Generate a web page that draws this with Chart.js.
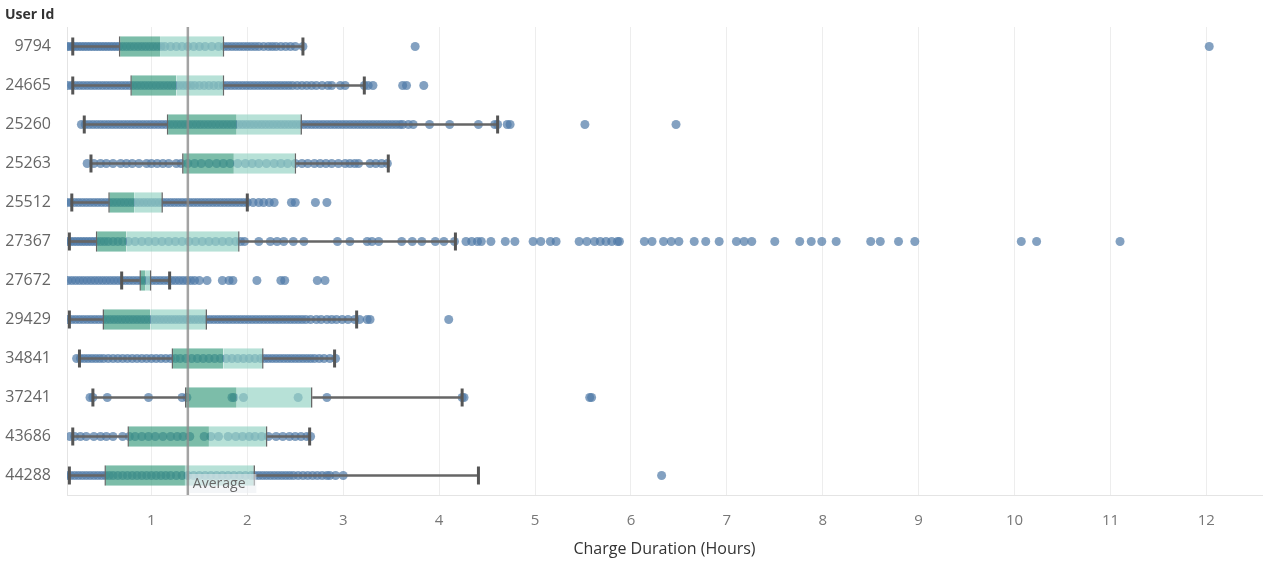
<!DOCTYPE html>
<html>
<head>
<meta charset="utf-8">
<script src="https://cdn.jsdelivr.net/npm/chart.js@4.4.1/dist/chart.umd.min.js"></script>
<style>
    body { margin: 0; background: #fff; }
</style>
</head>
<body>
<canvas id="chart" width="1265" height="561"></canvas>
<script>
const users = ['9794', '24665', '25260', '25263', '25512', '27367', '27672', '29429', '34841', '37241', '43686', '44288']

// box plot summary per user (hours)
const whiskerLow = [0.18, 0.18, 0.30, 0.37, 0.17, 0.145, 0.69, 0.145, 0.25, 0.39, 0.18, 0.145]
const q1 = [0.66, 0.78, 1.16, 1.32, 0.55, 0.42, 0.875, 0.49, 1.21, 1.35, 0.75, 0.51]
const median = [1.09, 1.26, 1.89, 1.86, 0.82, 0.74, 0.94, 0.99, 1.75, 1.89, 1.60, 1.35]
const q3 = [1.76, 1.76, 2.57, 2.51, 1.12, 1.92, 1.0, 1.58, 2.17, 2.68, 2.21, 2.08]
const whiskerHigh = [2.58, 3.22, 4.61, 3.47, 2.0, 4.17, 1.19, 3.14, 2.91, 4.24, 2.65, 4.41]
const averageDuration = 1.38

const xTicks = [1, 2, 3, 4, 5, 6, 7, 8, 9, 10, 11, 12]

// charge durations per user
const dur9794 = [0.12, 0.15, 0.18, 0.21, 0.24, 0.27, 0.3, 0.33, 0.36, 0.39, 0.42, 0.45, 0.48, 0.51, 0.54, 0.57, 0.6, 0.63, 0.66, 0.7, 0.74, 0.78, 0.82, 0.86, 0.9, 0.94, 0.98, 1.02, 1.06, 1.1, 1.14, 1.2, 1.26, 1.32, 1.38, 1.44, 1.5, 1.56, 1.63, 1.7, 1.76, 1.8, 1.84, 1.88, 1.92, 1.96, 2.0, 2.04, 2.08, 2.12, 2.17, 2.22, 2.26, 2.3, 2.35, 2.4, 2.45, 2.5, 2.58, 3.75, 12.03]
const dur24665 = [0.13, 0.17, 0.21, 0.25, 0.29, 0.33, 0.37, 0.41, 0.45, 0.49, 0.53, 0.57, 0.61, 0.65, 0.69, 0.73, 0.77, 0.81, 0.85, 0.89, 0.93, 0.97, 1.01, 1.05, 1.09, 1.13, 1.17, 1.21, 1.25, 1.29, 1.33, 1.37, 1.41, 1.45, 1.5, 1.55, 1.6, 1.65, 1.7, 1.75, 1.79, 1.83, 1.87, 1.91, 1.95, 1.99, 2.03, 2.07, 2.11, 2.15, 2.19, 2.23, 2.27, 2.31, 2.35, 2.39, 2.43, 2.47, 2.52, 2.57, 2.62, 2.67, 2.72, 2.78, 2.84, 2.88, 2.97, 3.02, 3.22, 3.26, 3.31, 3.62, 3.66, 3.84]
const dur25260 = [0.27, 0.31, 0.35, 0.39, 0.43, 0.47, 0.51, 0.55, 0.59, 0.63, 0.67, 0.71, 0.75, 0.79, 0.83, 0.87, 0.91, 0.95, 0.99, 1.03, 1.07, 1.11, 1.15, 1.19, 1.23, 1.27, 1.31, 1.35, 1.39, 1.43, 1.47, 1.51, 1.55, 1.59, 1.63, 1.67, 1.71, 1.75, 1.79, 1.83, 1.87, 1.91, 1.95, 1.99, 2.03, 2.07, 2.11, 2.15, 2.19, 2.23, 2.27, 2.31, 2.35, 2.39, 2.43, 2.47, 2.51, 2.55, 2.59, 2.63, 2.67, 2.71, 2.75, 2.79, 2.83, 2.87, 2.91, 2.95, 2.99, 3.03, 3.07, 3.11, 3.15, 3.19, 3.23, 3.27, 3.31, 3.35, 3.39, 3.43, 3.47, 3.51, 3.55, 3.59, 3.62, 3.68, 3.73, 3.9, 4.11, 4.41, 4.58, 4.61, 4.71, 4.74, 5.52, 6.47]
const dur25263 = [0.33, 0.4, 0.47, 0.53, 0.6, 0.68, 0.74, 0.8, 0.87, 0.95, 1.0, 1.06, 1.12, 1.18, 1.26, 1.31, 1.38, 1.45, 1.52, 1.6, 1.68, 1.75, 1.82, 1.9, 1.98, 2.05, 2.12, 2.2, 2.28, 2.35, 2.42, 2.5, 2.57, 2.63, 2.7, 2.76, 2.82, 2.88, 2.95, 3.02, 3.07, 3.12, 3.16, 3.28, 3.34, 3.4, 3.46]
const dur25512 = [0.12, 0.16, 0.2, 0.24, 0.28, 0.32, 0.36, 0.4, 0.44, 0.48, 0.52, 0.56, 0.6, 0.64, 0.68, 0.72, 0.76, 0.8, 0.84, 0.88, 0.92, 0.96, 1.0, 1.04, 1.08, 1.12, 1.16, 1.2, 1.24, 1.28, 1.32, 1.36, 1.4, 1.44, 1.48, 1.52, 1.56, 1.6, 1.64, 1.68, 1.72, 1.76, 1.8, 1.84, 1.88, 1.92, 1.96, 2.0, 2.06, 2.12, 2.17, 2.23, 2.28, 2.46, 2.5, 2.71, 2.83]
const dur27367 = [0.13, 0.16, 0.19, 0.22, 0.25, 0.28, 0.31, 0.34, 0.37, 0.4, 0.43, 0.47, 0.51, 0.55, 0.6, 0.65, 0.7, 0.76, 0.83, 0.9, 0.97, 1.04, 1.11, 1.18, 1.25, 1.32, 1.39, 1.46, 1.53, 1.6, 1.67, 1.74, 1.81, 1.88, 1.93, 1.97, 2.12, 2.24, 2.31, 2.38, 2.48, 2.59, 2.94, 3.07, 3.25, 3.3, 3.37, 3.61, 3.72, 3.82, 3.96, 4.05, 4.16, 4.28, 4.34, 4.4, 4.44, 4.54, 4.69, 4.79, 4.98, 5.06, 5.16, 5.22, 5.46, 5.54, 5.62, 5.68, 5.74, 5.8, 5.86, 5.88, 6.14, 6.22, 6.34, 6.42, 6.5, 6.66, 6.78, 6.92, 7.1, 7.18, 7.26, 7.5, 7.76, 7.88, 7.99, 8.14, 8.5, 8.6, 8.79, 8.96, 10.07, 10.23, 11.1]
const dur27672 = [0.13, 0.17, 0.21, 0.25, 0.29, 0.33, 0.37, 0.41, 0.45, 0.49, 0.53, 0.57, 0.61, 0.65, 0.69, 0.73, 0.77, 0.81, 0.85, 0.89, 0.93, 0.97, 1.01, 1.05, 1.09, 1.13, 1.17, 1.21, 1.25, 1.29, 1.33, 1.37, 1.41, 1.45, 1.5, 1.58, 1.74, 1.81, 1.85, 2.1, 2.35, 2.39, 2.73, 2.81]
const dur29429 = [0.13, 0.17, 0.21, 0.25, 0.29, 0.33, 0.37, 0.41, 0.45, 0.49, 0.53, 0.57, 0.61, 0.65, 0.69, 0.73, 0.77, 0.81, 0.85, 0.89, 0.93, 0.97, 1.01, 1.05, 1.09, 1.13, 1.17, 1.21, 1.25, 1.29, 1.33, 1.37, 1.41, 1.45, 1.49, 1.53, 1.57, 1.61, 1.65, 1.69, 1.73, 1.77, 1.81, 1.85, 1.89, 1.93, 1.97, 2.01, 2.05, 2.09, 2.13, 2.17, 2.21, 2.25, 2.29, 2.33, 2.37, 2.41, 2.45, 2.49, 2.53, 2.57, 2.61, 2.66, 2.72, 2.77, 2.83, 2.88, 2.93, 2.99, 3.05, 3.12, 3.17, 3.25, 3.28, 4.1]
const dur34841 = [0.22, 0.26, 0.3, 0.34, 0.38, 0.42, 0.46, 0.5, 0.55, 0.6, 0.65, 0.7, 0.75, 0.8, 0.85, 0.9, 0.95, 1.0, 1.05, 1.1, 1.15, 1.2, 1.25, 1.3, 1.36, 1.42, 1.48, 1.54, 1.6, 1.66, 1.72, 1.78, 1.84, 1.9, 1.96, 2.02, 2.08, 2.14, 2.18, 2.22, 2.26, 2.3, 2.34, 2.38, 2.42, 2.46, 2.5, 2.54, 2.58, 2.62, 2.66, 2.7, 2.75, 2.8, 2.86, 2.92]
const dur37241 = [0.36, 0.39, 0.54, 0.97, 1.32, 1.37, 1.84, 1.86, 1.96, 2.53, 2.83, 4.24, 4.26, 5.57, 5.59]
const dur43686 = [0.15, 0.2, 0.26, 0.32, 0.4, 0.47, 0.53, 0.6, 0.7, 0.77, 0.83, 0.9, 0.97, 1.04, 1.12, 1.2, 1.27, 1.33, 1.4, 1.55, 1.62, 1.7, 1.8, 1.88, 1.95, 2.02, 2.08, 2.15, 2.22, 2.3, 2.37, 2.44, 2.5, 2.56, 2.62, 2.66]
const dur44288 = [0.12, 0.16, 0.2, 0.24, 0.28, 0.32, 0.36, 0.4, 0.44, 0.48, 0.52, 0.56, 0.6, 0.65, 0.7, 0.75, 0.8, 0.85, 0.9, 0.95, 1.0, 1.05, 1.1, 1.15, 1.2, 1.26, 1.32, 1.38, 1.44, 1.5, 1.56, 1.62, 1.68, 1.74, 1.8, 1.86, 1.92, 1.98, 2.04, 2.08, 2.12, 2.16, 2.2, 2.24, 2.28, 2.32, 2.36, 2.4, 2.44, 2.48, 2.53, 2.58, 2.63, 2.68, 2.73, 2.78, 2.83, 2.86, 2.92, 3.0, 6.32]

const durations = [dur9794, dur24665, dur25260, dur25263, dur25512, dur27367, dur27672, dur29429, dur34841, dur37241, dur43686, dur44288]

const FONT = "'Open Sans', sans-serif"

const points = users.flatMap((u, i) => durations[i].map(x => ({ x: x, y: u })))
const caps = users.flatMap((u, i) => [{ x: whiskerLow[i], y: u }, { x: whiskerHigh[i], y: u }])

// header text + average reference line
const extras = {
    id: 'extras',
    afterDatasetsDraw(chart) {
        const { ctx, chartArea, scales } = chart
        const xa = scales.x.getPixelForValue(averageDuration)
        ctx.save()
        ctx.strokeStyle = 'rgba(140,140,140,0.8)'
        ctx.lineWidth = 2.5
        ctx.beginPath()
        ctx.moveTo(xa, chartArea.top)
        ctx.lineTo(xa, chartArea.bottom)
        ctx.stroke()

        ctx.fillStyle = 'rgba(235,238,242,0.55)'
        ctx.fillRect(xa + 1.5, chartArea.bottom - 21, 67, 19)
        ctx.fillStyle = '#666'
        ctx.font = '14px ' + FONT
        ctx.textBaseline = 'middle'
        ctx.fillText('Average', xa + 5, chartArea.bottom - 11)

        ctx.fillStyle = '#333'
        ctx.font = 'bold 14px ' + FONT
        ctx.fillText('User Id', 5, 15)
        ctx.restore()
    }
}

new Chart(document.getElementById('chart'), {
    type: 'bar',
    data: {
        labels: users,
        datasets: [{
            type: 'scatter',
            data: points,
            pointRadius: 4.5,
            backgroundColor: 'rgba(78,121,167,0.7)',
            borderWidth: 0,
            order: 6
        }, {
            data: users.map((u, i) => [q1[i], median[i]]),
            backgroundColor: 'rgba(54,154,123,0.65)',
            borderColor: '#666',
            borderWidth: { left: 1.5, right: 0, top: 0, bottom: 0 },
            borderSkipped: false,
            grouped: false,
            barPercentage: 0.52,
            categoryPercentage: 1,
            order: 5
        }, {
            data: users.map((u, i) => [median[i], q3[i]]),
            backgroundColor: 'rgba(147,211,195,0.67)',
            borderColor: '#666',
            borderWidth: { left: 0, right: 1.5, top: 0, bottom: 0 },
            borderSkipped: false,
            grouped: false,
            barPercentage: 0.52,
            categoryPercentage: 1,
            order: 4
        }, {
            data: users.map((u, i) => [whiskerLow[i], q1[i]]),
            backgroundColor: '#666',
            grouped: false,
            barThickness: 2,
            order: 3
        }, {
            data: users.map((u, i) => [q3[i], whiskerHigh[i]]),
            backgroundColor: '#666',
            grouped: false,
            barThickness: 2,
            order: 2
        }, {
            type: 'scatter',
            data: caps,
            pointStyle: 'line',
            rotation: 90,
            pointRadius: 9,
            borderWidth: 3,
            borderColor: '#555',
            order: 1
        }]
    },
    options: {
        indexAxis: 'y',
        responsive: false,
        animation: false,
        events: [],
        layout: { autoPadding: false, padding: { top: 27, right: 3, left: 0, bottom: 0 } },
        plugins: {
            legend: { display: false },
            tooltip: { enabled: false }
        },
        scales: {
            x: {
                type: 'linear',
                min: 0.12,
                max: 12.58,
                afterBuildTicks: scale => { scale.ticks = xTicks.map(v => ({ value: v })) },
                afterFit: scale => {
                    scale.height = 66
                    scale.paddingLeft = 0
                    scale.paddingRight = 0
                },
                grid: { color: '#ededed', drawTicks: false },
                border: { color: '#e4e4e4' },
                ticks: { color: '#777', font: { family: FONT, size: 15 }, padding: 17 },
                title: {
                    display: true,
                    text: 'Charge Duration (Hours)',
                    color: '#333',
                    font: { family: FONT, size: 16 },
                    padding: { top: 4, bottom: 2 }
                }
            },
            y: {
                type: 'category',
                afterFit: scale => { scale.width = 67 },
                grid: { display: false },
                border: { color: '#e4e4e4' },
                ticks: { color: '#666', font: { family: FONT, size: 16 }, padding: 8 }
            }
        }
    },
    plugins: [extras]
})
</script>
</body>
</html>
